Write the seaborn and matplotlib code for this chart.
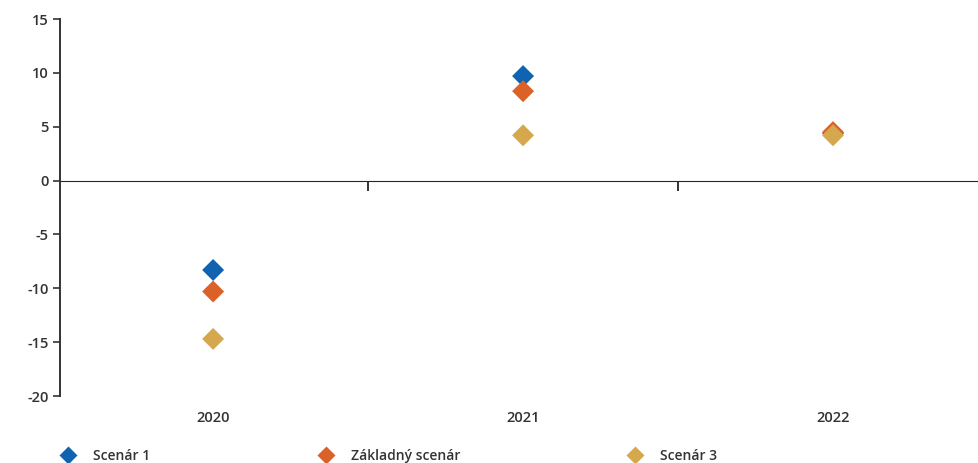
import matplotlib
matplotlib.use("Agg")
import matplotlib.pyplot as plt
import seaborn as sns
import pandas as pd
from matplotlib.lines import Line2D

years = ["2020", "2021", "2022"]
series_names = ["Scenár 1", "Základný scenár", "Scenár 3"]
scenar1 = [-8.3, 9.7, 4.4]
zakladny = [-10.3, 8.3, 4.5]
scenar3 = [-14.7, 4.2, 4.2]
colors = ["#0f63b0", "#dc6128", "#d6a84e"]
y_ticks = [15, 10, 5, 0, -5, -10, -15, -20]

rows = []
for name, vals in zip(series_names, [scenar1, zakladny, scenar3]):
    for yr, v in zip(years, vals):
        rows.append({"year": yr, "value": v, "series": name})
df = pd.DataFrame(rows)

sns.set_style("white")
plt.rcParams["font.family"] = ["Open Sans", "DejaVu Sans"]
plt.rcParams["font.weight"] = "semibold"
plt.rcParams["axes.unicode_minus"] = False

fig = plt.figure(figsize=(9.79, 4.63), dpi=100)
ax = fig.add_axes([60 / 979, 1 - 396 / 463, 1 - 60 / 979, (396 - 19) / 463])

sns.scatterplot(data=df, x="year", y="value", hue="series", hue_order=series_names,
                palette=colors, marker="D", s=125, edgecolor="none", linewidth=0,
                ax=ax, legend=False, zorder=3)

ax.set_xlim(-0.494, 2.471)
ax.set_ylim(-20, 15)
ax.set_yticks(y_ticks)
ax.set_xlabel("")
ax.set_ylabel("")
for side in ["top", "right", "bottom"]:
    ax.spines[side].set_visible(False)
ax.spines["left"].set_color("#333333")
ax.spines["left"].set_linewidth(1.4)
ax.tick_params(axis="y", left=True, direction="out", length=5, width=1.2, color="#333333",
               labelsize=10.5, labelcolor="#333333", pad=3)
ax.tick_params(axis="x", bottom=False, length=0, labelsize=10.5, labelcolor="#333333", pad=11)

# zero line with category-boundary ticks
sec = ax.secondary_xaxis(20 / 35)
sec.spines["bottom"].set_color("#333333")
sec.spines["bottom"].set_linewidth(1.4)
sec.set_xticks([0.5, 1.5])
sec.set_xticklabels([])
sec.tick_params(axis="x", bottom=True, top=False, direction="out", length=7, width=1.4,
                color="#333333", labelbottom=False, labeltop=False)

handles = [Line2D([0], [0], marker="D", linestyle="none", markersize=9,
                  markerfacecolor=c, markeredgecolor="none") for c in colors]
fig.legend(handles, series_names, loc="lower left", bbox_to_anchor=(0.043, -0.027),
           ncol=3, frameon=False, fontsize=10, columnspacing=11.6, handletextpad=0.8,
           labelcolor="#333333")

fig.savefig("out.png", dpi=100)
